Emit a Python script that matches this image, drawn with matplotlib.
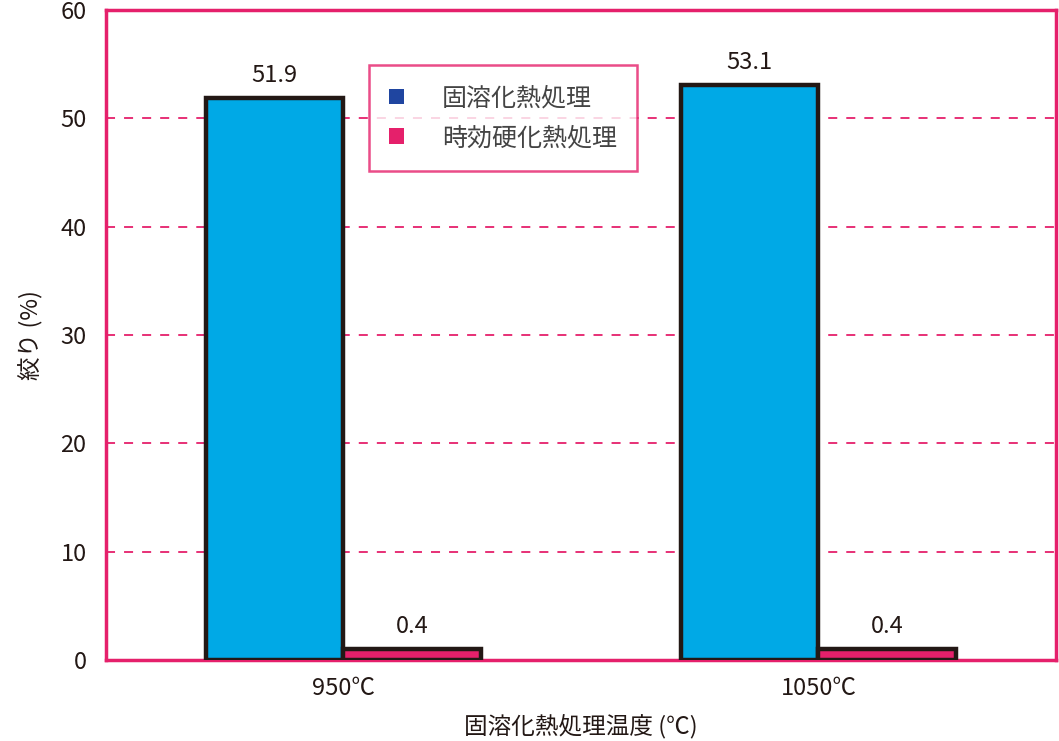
import matplotlib
matplotlib.use("Agg")
import matplotlib.pyplot as plt
from matplotlib.patches import Patch
import numpy as np

plt.rcParams['font.family'] = ['Noto Sans CJK JP', 'DejaVu Sans']

categories = ["950℃", "1050℃"]
series_names = ["固溶化熱処理", "時効硬化熱処理"]
solution_vals = [51.9, 53.1]
aging_vals = [0.4, 0.4]
yticks = [0, 10, 20, 30, 40, 50, 60]
min_visible_height = 1.0  # the reference draws tiny bars with a minimum visible height

pink = "#e5206b"
blue_bar = "#00a9e6"
legend_blue = "#1f45a0"
edge = "#231815"
text_c = "#231815"

fig = plt.figure(figsize=(10.59, 7.41), dpi=100)
ax = fig.add_axes([0.1001, 0.1093, 0.8970, 0.8772])

x = np.arange(len(categories))
w = 0.29
b1 = ax.bar(x - w/2, solution_vals, w, color=blue_bar, edgecolor=edge, linewidth=3.2, zorder=3)
b2 = ax.bar(x + w/2, np.maximum(aging_vals, min_visible_height), w, color=pink,
            edgecolor=edge, linewidth=3.2, zorder=3)

for rect, v in zip(b1, solution_vals):
    ax.text(rect.get_x() + rect.get_width()/2, v + 1.0, f"{v}", ha="center", va="bottom",
            fontsize=17, color=text_c, zorder=4)
for rect, v in zip(b2, aging_vals):
    ax.text(rect.get_x() + rect.get_width()/2, rect.get_height() + 1.0, f"{v}", ha="center",
            va="bottom", fontsize=17, color=text_c, zorder=4)

ax.set_xlim(-0.5, 1.5)
ax.set_ylim(0, 60)
ax.set_yticks(yticks)
ax.set_xticks(x)
ax.set_xticklabels(categories)
ax.tick_params(axis="both", length=0, labelsize=17, colors=text_c)
ax.tick_params(axis="y", pad=14)
ax.tick_params(axis="x", pad=12)

for y in yticks[1:-1]:
    ax.axhline(y, color=pink, linestyle=(0, (5, 5)), linewidth=1.3, zorder=1)

for s in ax.spines.values():
    s.set_color(pink)
    s.set_linewidth(2.5)

ax.set_ylabel("絞り (%)", fontsize=17, color=text_c, labelpad=12)
ax.set_xlabel("固溶化熱処理温度 (℃)", fontsize=17, color=text_c, labelpad=10)

handles = [Patch(facecolor=legend_blue, edgecolor="none"), Patch(facecolor=pink, edgecolor="none")]
leg = ax.legend(handles, series_names, loc="upper left", bbox_to_anchor=(0.277, 0.915),
                fontsize=18, frameon=True, fancybox=False, handlelength=0.6, handleheight=0.6,
                handletextpad=1.5, borderpad=0.8, labelspacing=0.55, borderaxespad=0)
leg.get_frame().set_edgecolor(pink)
leg.get_frame().set_linewidth(1.8)
for t in leg.get_texts():
    t.set_color("#444444")
leg.set_zorder(5)

fig.savefig("out.png", dpi=100)
